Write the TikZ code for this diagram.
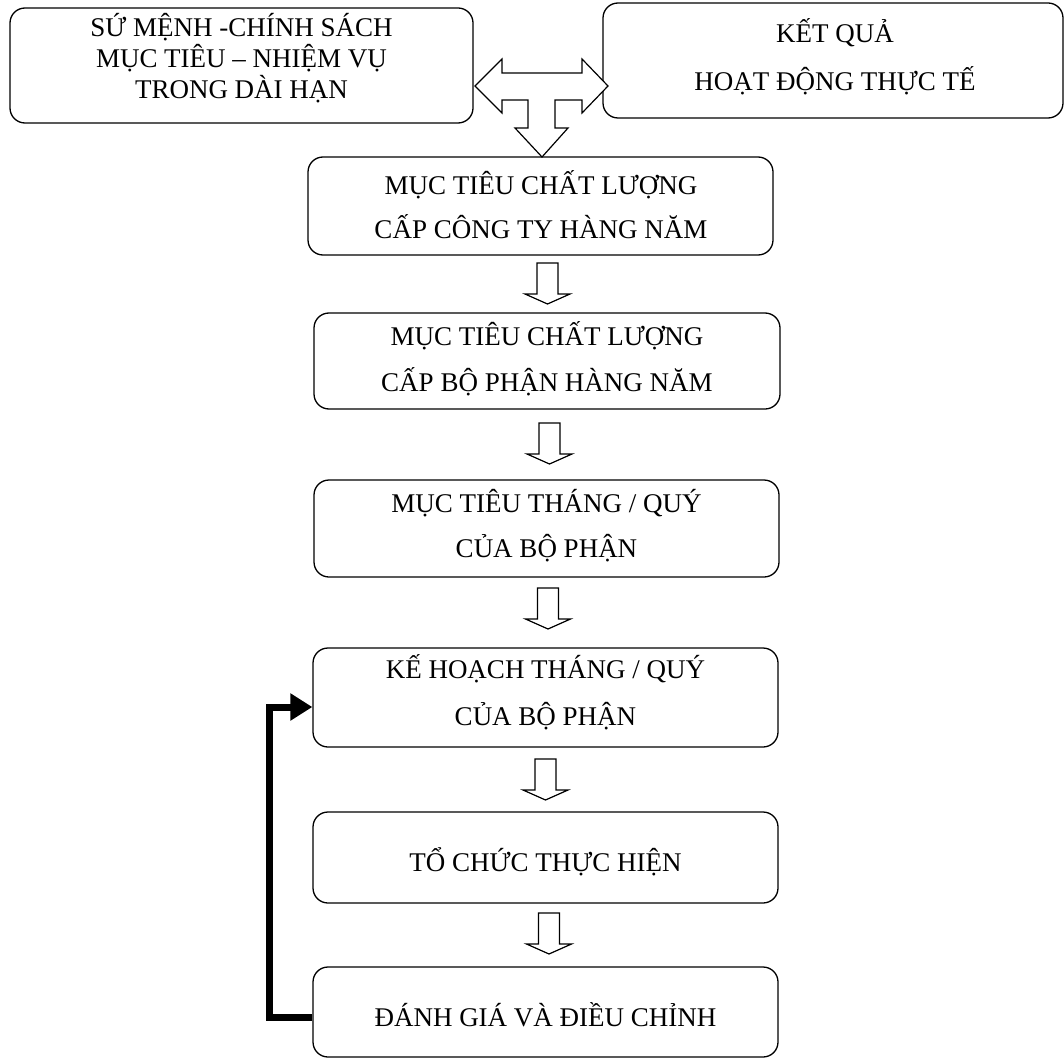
\documentclass[tikz,border=0pt]{standalone}
\usepackage{fontspec}
\setmainfont{Liberation Serif}
\usetikzlibrary{arrows.meta}
\begin{document}
\begin{tikzpicture}[x=1pt,y=-1pt,
  box/.style={draw, line width=1.3pt, rounded corners=15pt, inner sep=0pt, shape=rectangle},
  txt/.style={align=center, inner sep=0pt},
  blk/.style={draw, line width=1.2pt, fill=white, line join=miter},
  fb/.style={line width=7pt, line join=miter, -{Triangle[length=22pt,width=26pt]}},
  dnarrow/.pic={\draw[blk] (-10.5,0) -- (10.5,0) -- (10.5,31) -- (22.5,31) -- (0,41) -- (-22.5,31) -- (-10.5,31) -- cycle;}
]
\useasboundingbox (0,0) rectangle (1064,1059);

% boxes
\node[box, minimum width=463pt, minimum height=115pt] (tl) at (241.5,65.5) {};
\node[box, minimum width=460pt, minimum height=115pt] (tr) at (833,60.5) {};
\node[box, minimum width=465pt, minimum height=98pt] (b1) at (540.5,206) {};
\node[box, minimum width=466pt, minimum height=96pt] (b2) at (547,361) {};
\node[box, minimum width=465pt, minimum height=97pt] (b3) at (546.5,528.5) {};
\node[box, minimum width=465pt, minimum height=99pt] (b4) at (545.5,697.5) {};
\node[box, minimum width=465pt, minimum height=91pt] (b5) at (545.5,857.5) {};
\node[box, minimum width=465pt, minimum height=90pt] (b6) at (545.5,1012) {};

% texts
\node[txt, font=\fontsize{27}{31}\selectfont] (ttl) at (241.5,58) {SỨ MỆNH -CHÍNH SÁCH\\MỤC TIÊU – NHIỆM VỤ\\TRONG DÀI HẠN};
\node[txt, font=\fontsize{27}{48}\selectfont] (ttr) at (835,57) {KẾT QUẢ\\HOẠT ĐỘNG THỰC TẾ};
\node[txt, font=\fontsize{27}{44}\selectfont] (t1) at (541,205) {MỤC TIÊU CHẤT LƯỢNG\\CẤP CÔNG TY HÀNG NĂM};
\node[txt, font=\fontsize{27}{46}\selectfont] (t2) at (547,359) {MỤC TIÊU CHẤT LƯỢNG\\CẤP BỘ PHẬN HÀNG NĂM};
\node[txt, font=\fontsize{27}{45}\selectfont] (t3) at (546.5,525.5) {MỤC TIÊU THÁNG / QUÝ\\CỦA BỘ PHẬN};
\node[txt, font=\fontsize{27}{47}\selectfont] (t4) at (545.5,692.5) {KẾ HOẠCH THÁNG / QUÝ\\CỦA BỘ PHẬN};
\node[txt, font=\fontsize{27}{32}\selectfont] (t5) at (545.5,862) {TỔ CHỨC THỰC HIỆN};
\node[txt, font=\fontsize{27}{32}\selectfont] (t6) at (545.5,1015) {ĐÁNH GIÁ VÀ ĐIỀU CHỈNH};

% three-way block arrow
\draw[blk] (475,86) -- (502,59) -- (502,73) -- (582,73) -- (582,59) -- (608,86)
  -- (582,113) -- (582,100) -- (555,100) -- (555,128) -- (568,128) -- (542,157)
  -- (515,128) -- (528,128) -- (528,100) -- (502,100) -- (502,113) -- cycle;

% down block arrows
\pic at (547.5,263) {dnarrow};
\pic at (549.5,423) {dnarrow};
\pic at (548,588) {dnarrow};
\pic at (545.5,759) {dnarrow};
\pic at (549,913) {dnarrow};

% feedback
\draw[fb] ([yshift=-5pt]b6.west) -- ++(-43,0) |- ([yshift=-9.5pt]b4.west);
\end{tikzpicture}
\end{document}
